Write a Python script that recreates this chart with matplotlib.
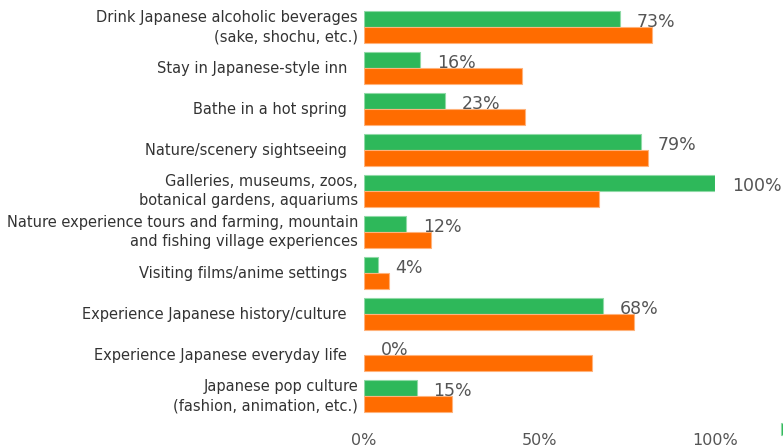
import matplotlib
matplotlib.use("Agg")
import matplotlib.pyplot as plt
from matplotlib import transforms

categories = [
    "Drink Japanese alcoholic beverages\n(sake, shochu, etc.)",
    "Stay in Japanese-style inn",
    "Bathe in a hot spring",
    "Nature/scenery sightseeing",
    "Galleries, museums, zoos,\nbotanical gardens, aquariums",
    "Nature experience tours and farming, mountain\nand fishing village experiences",
    "Visiting films/anime settings",
    "Experience Japanese history/culture",
    "Experience Japanese everyday life",
    "Japanese pop culture\n(fashion, animation, etc.)",
]
green_values = [73, 16, 23, 79, 100, 12, 4, 68, 0, 15]
orange_values = [82, 45, 46, 81, 67, 19, 7, 77, 65, 25]
series_names = ["Group 1", "Group 2"]
x_ticks = [0, 50, 100]
x_tick_labels = ["0%", "50%", "100%"]

GREEN = "#2eb85a"
ORANGE = "#ff6c00"
LABEL_GREY = "#555555"
TEXT_DARK = "#333333"

W, H = 783, 448
fig = plt.figure(figsize=(W / 100, H / 100), dpi=100)
ax = fig.add_axes([364 / W, 1 - 416.8 / H, (715 - 364) / W, 410 / H])

bar_h = 0.39
ys = list(range(len(categories)))
ax.barh([y - bar_h / 2 for y in ys], green_values, height=bar_h, color=GREEN,
        edgecolor="#8fdaa6", linewidth=[0.8 if v > 0 else 0 for v in green_values],
        label=series_names[0], zorder=2)
ax.barh([y + bar_h / 2 for y in ys], orange_values, height=bar_h, color=ORANGE,
        edgecolor="#ffb27a", linewidth=[0.8 if v > 0 else 0 for v in orange_values],
        label=series_names[1], zorder=2)

ax.set_xlim(0, 100)
ax.set_ylim(len(categories) - 0.5, -0.5)

# value labels beside the green bars
for y, v in zip(ys, green_values):
    ax.annotate(f"{v}%", xy=(v, y - bar_h / 2), xytext=(12, -2),
                textcoords="offset points", ha="left", va="center",
                fontsize=12.5, color=LABEL_GREY, zorder=5, annotation_clip=False)

# category labels on the left
ax.set_yticks([])
two_line_tr = transforms.offset_copy(ax.get_yaxis_transform(), fig=fig, x=-6, y=0, units="dots")
one_line_tr = transforms.offset_copy(ax.get_yaxis_transform(), fig=fig, x=-17, y=0, units="dots")
for y, name in zip(ys, categories):
    tr = two_line_tr if "\n" in name else one_line_tr
    ax.text(0, y, name, transform=tr, ha="right", va="center",
            fontsize=10.5, color=TEXT_DARK, linespacing=1.35)

ax.set_xticks(x_ticks)
ax.set_xticklabels(x_tick_labels, fontsize=11.5, color=LABEL_GREY)
ax.tick_params(axis="x", length=0, pad=11.5)
for s in ax.spines.values():
    s.set_visible(False)

fig.legend(loc="upper left", bbox_to_anchor=(781 / W, 1 - 423 / H), ncol=2,
           frameon=False, borderpad=0, borderaxespad=0, handlelength=1.0,
           handleheight=1.0, fontsize=10, labelcolor=LABEL_GREY)

fig.savefig("out.png", dpi=100)
